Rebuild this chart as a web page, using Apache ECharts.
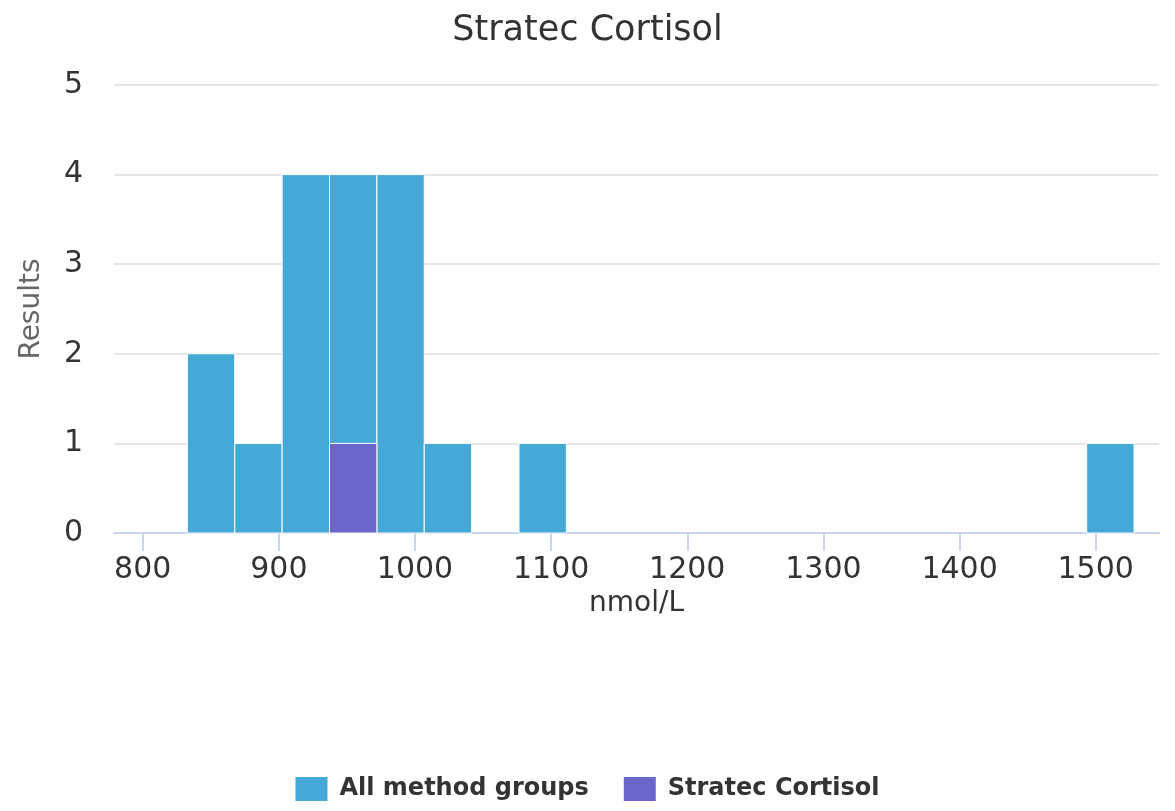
<!DOCTYPE html>
<html>
<head>
<meta charset="utf-8">
<script src="https://cdn.jsdelivr.net/npm/echarts@6/dist/echarts.min.js"></script>
<style>html,body{margin:0;padding:0;background:#fff}#chart{width:1175px;height:811px}</style>
</head>
<body>
<div id="chart"></div>
<script>
// Histogram data
const binWidth = 34.8;
const allBinStarts = [832.8, 867.6, 902.4, 937.2, 972.0, 1006.8, 1076.4, 1493.4];
const allCounts = [2, 1, 4, 4, 4, 1, 1, 1];
const stratecBinStarts = [937.2];
const stratecCounts = [1];
const xTicks = [800, 900, 1000, 1100, 1200, 1300, 1400, 1500];
const yTicks = [0, 1, 2, 3, 4, 5];

function toRows(starts, counts) {
  return starts.map((s, i) => [s, s + binWidth, counts[i]]);
}

function renderBar(params, api) {
  const p0 = api.coord([api.value(0), api.value(2)]);
  const p1 = api.coord([api.value(1), 0]);
  return {
    type: 'rect',
    shape: { x: p0[0], y: p0[1], width: p1[0] - p0[0], height: p1[1] - p0[1] },
    style: api.style({ stroke: '#ffffff', lineWidth: 1 })
  };
}

const chart = echarts.init(document.getElementById('chart'), null, { renderer: 'canvas' });
const font = 'DejaVu Sans';
chart.setOption({
  animation: false,
  title: {
    text: 'Stratec Cortisol',
    left: 'center',
    top: 8,
    textStyle: { fontFamily: font, fontSize: 35, fontWeight: 'normal', color: '#333333' }
  },
  grid: { left: 114, right: 16, top: 85, bottom: 278, outerBoundsMode: 'none', containLabel: false },
  legend: {
    bottom: 5,
    left: 'center',
    icon: 'rect',
    itemWidth: 32,
    itemHeight: 24,
    itemGap: 35,
    textStyle: { fontFamily: font, fontSize: 24, fontWeight: 'bold', color: '#333333', padding: [0, 0, 0, 7] },
    data: ['All method groups', 'Stratec Cortisol']
  },
  xAxis: {
    type: 'value',
    min: 778.9,
    max: 1546.5,
    name: 'nmol/L',
    nameLocation: 'middle',
    nameGap: 45,
    nameTextStyle: { fontFamily: font, fontSize: 28, color: '#333333' },
    axisLine: { show: true, lineStyle: { color: '#ccd6eb', width: 2 } },
    axisTick: { show: true, length: 18, customValues: xTicks, lineStyle: { color: '#ccd6eb', width: 2 } },
    axisLabel: { customValues: xTicks, formatter: v => String(v), fontFamily: font, fontSize: 30, color: '#333333', margin: 22 },
    splitLine: { show: false }
  },
  yAxis: {
    type: 'value',
    min: 0,
    max: 5,
    interval: 1,
    name: 'Results',
    nameLocation: 'middle',
    nameGap: 68,
    nameRotate: 90,
    nameTextStyle: { fontFamily: font, fontSize: 28, color: '#666666' },
    axisLine: { show: false },
    axisTick: { show: false },
    axisLabel: { fontFamily: font, fontSize: 30, color: '#333333', margin: 31 },
    splitLine: { lineStyle: { color: '#e6e6e6', width: 2 } }
  },
  series: [
    {
      name: 'All method groups',
      type: 'custom',
      renderItem: renderBar,
      itemStyle: { color: '#44a9d6' },
      encode: { x: [0, 1], y: 2 },
      data: toRows(allBinStarts, allCounts)
    },
    {
      name: 'Stratec Cortisol',
      type: 'custom',
      renderItem: renderBar,
      itemStyle: { color: '#6a65c9' },
      encode: { x: [0, 1], y: 2 },
      data: toRows(stratecBinStarts, stratecCounts)
    }
  ]
});
</script>
</body>
</html>
